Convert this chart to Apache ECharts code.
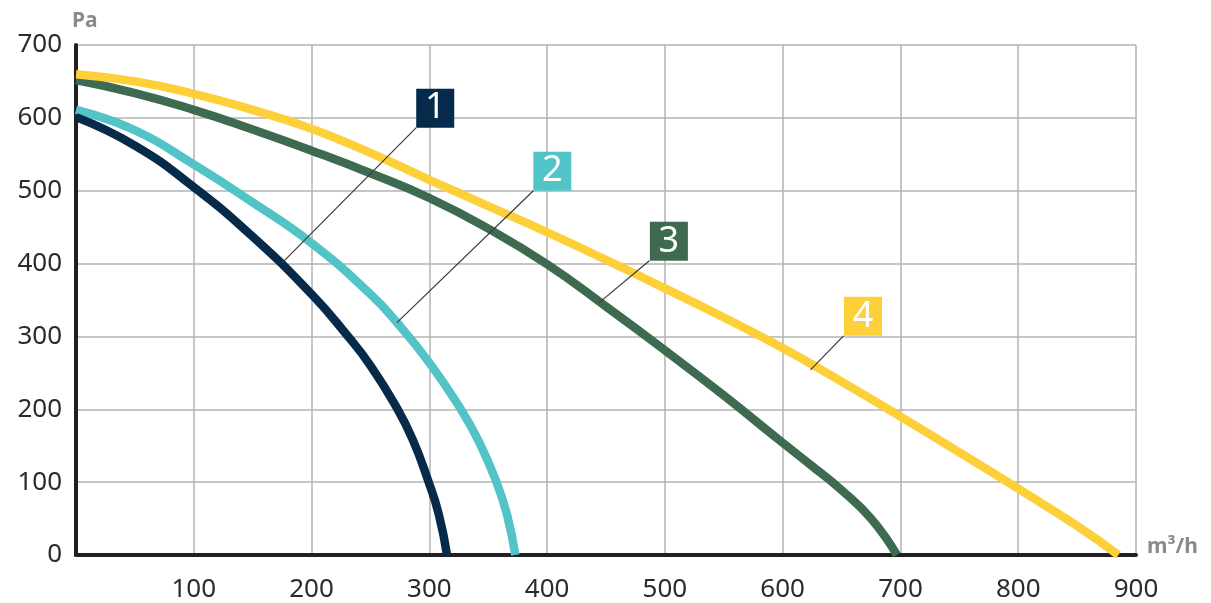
<!DOCTYPE html>
<html>
<head>
<meta charset="utf-8">
<script src="https://cdn.jsdelivr.net/npm/echarts@6/dist/echarts.min.js"></script>
<style>
html,body{margin:0;padding:0;background:#fff;}
#c{width:1211px;height:603px;}
</style>
</head>
<body>
<div id="c"></div>
<script>
// Flow (m³/h) vs pressure (Pa) for each curve
const curve1 = [[0,601],[50,562],[100,505],[150,437],[200,358],[230,302],[250,260],[272,203],[286,158],[299,102],[308,56],[315,0]];
const curve2 = [[0,611],[50,583],[100,536],[150,484],[200,428],[250,358],[272,320],[300,264],[326,202],[342,156],[357,100],[366,55],[373,0]];
const curve3 = [[0,652],[50,634],[100,611],[150,584],[200,555],[250,524],[300,490],[350,448],[400,399],[450,341],[500,281],[550,219],[600,154],[625,122],[650,89],[675,50],[697,0]];
const curve4 = [[0,660],[50,650],[100,633],[150,611],[200,585],[250,552],[300,515],[350,479],[400,443],[450,405],[500,366],[550,326],[600,284],[650,238],[700,190],[750,141],[800,91],[850,40],[885,0]];
const curveNames = ['1','2','3','4'];
const xTicks = [0,100,200,300,400,500,600,700,800,900];
const yTicks = [0,100,200,300,400,500,600,700];
// label boxes: box center, leader start (box corner), leader end (on curve), in data units
const labelCenters = [[305,613.3],[404.4,526.8],[503.4,430.6],[668.2,327.6]];
const leaderStarts = [[288.9,586.5],[388.3,500],[486.8,403.8],[651.7,300.8]];
const leaderEnds = [[175,401],[272.5,319],[444,346],[623.6,254]];

const colors = ['#052a4a','#52c4c8','#3e6b50','#fdcf38'];
const curves = [curve1, curve2, curve3, curve4];

const chart = echarts.init(document.getElementById('c'));
const series = [];
const order = [1,0,2,3];
order.forEach(i => {
  series.push({
    type:'line', name:curveNames[i], data:curves[i], smooth:0.5, showSymbol:false,
    lineStyle:{color:colors[i], width:8.5, cap:'butt'}, z:3, silent:true
  });
});
series.push({
  type:'scatter', data:[], z:10, silent:true,
  markLine:{
    silent:true, symbol:['none','none'], animation:false,
    lineStyle:{color:'#3a3a3a', width:1.2, type:'solid'},
    label:{show:false},
    data: leaderStarts.map((s,i)=>[{coord:s},{coord:leaderEnds[i]}])
  },
  markPoint:{
    silent:true, animation:false, symbol:'rect', symbolSize:[38,39],
    label:{show:true, position:'inside', color:'#fff', fontSize:36, fontFamily:'Noto Sans', formatter:p=>p.name},
    data: labelCenters.map((c,i)=>({name:curveNames[i], coord:c, itemStyle:{color:colors[i]}}))
  }
});

chart.setOption({
  animation:false,
  backgroundColor:'#fff',
  grid:{left:76, right:75, top:45, bottom:48, containLabel:false},
  xAxis:{
    type:'value', min:0, max:900, interval:100,
    axisLine:{show:true, onZero:false, lineStyle:{color:'#231f20', width:4}},
    axisTick:{show:false},
    splitLine:{show:true, lineStyle:{color:'#b3b3b3', width:1.5}},
    axisLabel:{margin:22, fontSize:26, color:'#2b2b2b', fontFamily:'Noto Sans',
      formatter:v=> (v===0?'':String(v))}
  },
  yAxis:{
    type:'value', min:0, max:700, interval:100,
    axisLine:{show:true, lineStyle:{color:'#231f20', width:4}},
    axisTick:{show:false},
    splitLine:{show:true, lineStyle:{color:'#b3b3b3', width:1.5}},
    axisLabel:{margin:14, fontSize:26, color:'#2b2b2b', fontFamily:'Noto Sans'}
  },
  graphic:[
    {type:'text', left:72, top:11, style:{text:'Pa', fill:'#8a8a8a', font:'bold 21px "Noto Sans"'}},
    {type:'text', left:1147, top:537, style:{text:'m³/h', fill:'#8a8a8a', font:'bold 21px "Noto Sans"'}}
  ],
  series: series
});
</script>
</body>
</html>
